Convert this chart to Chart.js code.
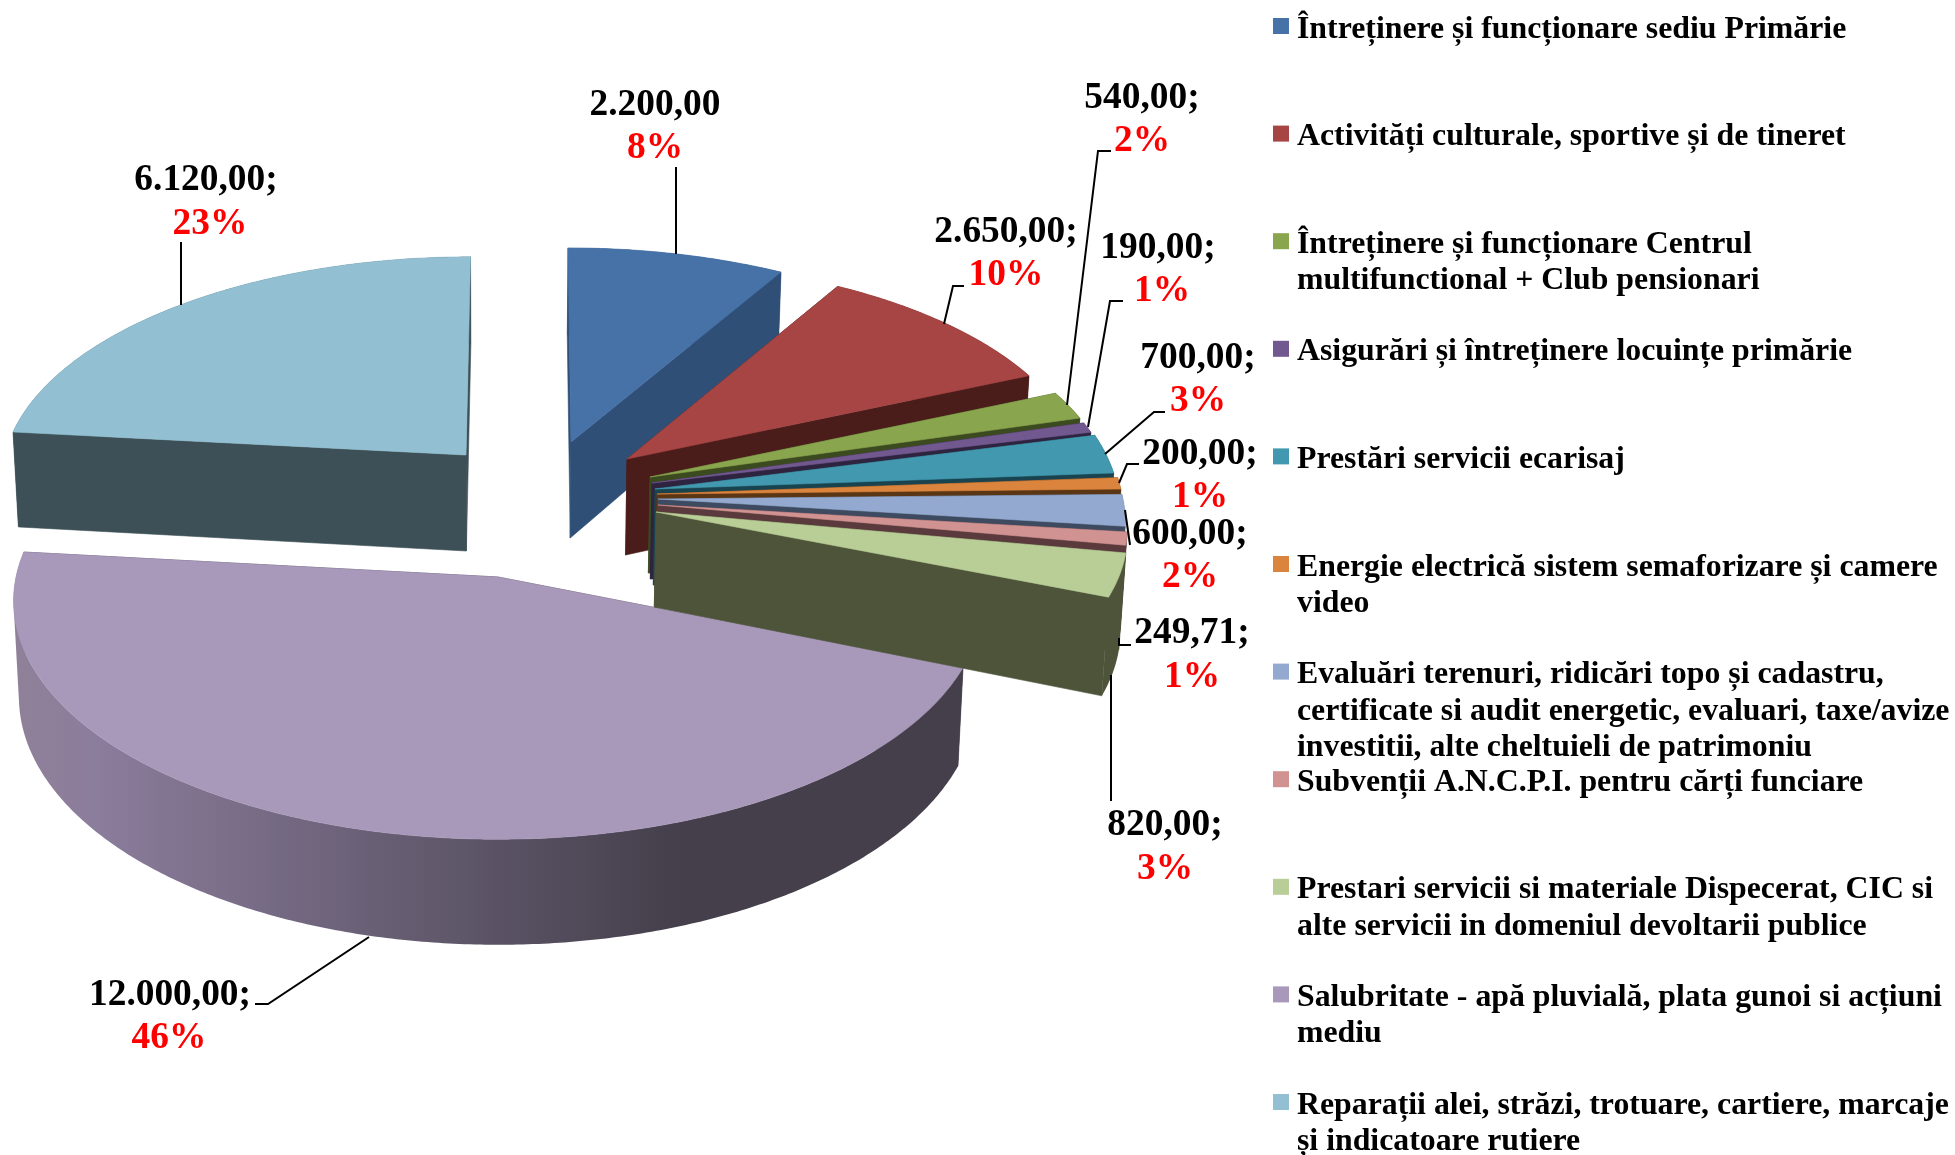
<!DOCTYPE html>
<html><head><meta charset="utf-8">
<style>html,body{margin:0;padding:0;background:#fff}canvas{display:block}</style>
<script src="https://cdn.jsdelivr.net/npm/chart.js@4"></script>
</head><body><canvas id="c" width="1955" height="1155"></canvas>
<script>
const categories = [
  ["Întreținere și funcționare sediu Primărie"],
  ["Activități culturale, sportive și de tineret"],
  ["Întreținere și funcționare Centrul","multifunctional + Club pensionari"],
  ["Asigurări și întreținere locuințe primărie"],
  ["Prestări servicii ecarisaj"],
  ["Energie electrică sistem semaforizare și camere","video"],
  ["Evaluări terenuri, ridicări topo și cadastru,","certificate si audit energetic, evaluari, taxe/avize","investitii, alte cheltuieli de patrimoniu"],
  ["Subvenții A.N.C.P.I. pentru cărți funciare"],
  ["Prestari servicii si materiale Dispecerat, CIC si","alte servicii in domeniul devoltarii publice"],
  ["Salubritate - apă pluvială, plata gunoi si acțiuni","mediu"],
  ["Reparații alei, străzi, trotuare, cartiere, marcaje","și indicatoare rutiere"]
];
const values = [2200,2650,540,190,700,200,600,249.71,820,12000,6120];
const separators = ["",";",";",";",";",";",";",";",";",";",";"];

const topColors  = ["#4672a8","#a64543","#89a54e","#71588f","#4198af","#db843d","#93a9cf","#d19392","#b9cd96","#a899bb","#92c0d2"];
const sideColors = ["#2f4f76","#4a1d1b","#3c4a20","#2f2440","#1a4350","#5b3615","#3d4a60","#5a3a3c","#4d543a","#443f4b","#3e5057"];

// exploded 3D projection of each slice: centre, radii, shear (styling of the projection only)
const perspective = 0.1, convergeX = 500, convergeK = 0.989;
const projection = [
  {cx:571,cy:442,rx:460,ry:213.5,sx:3.3,d:96},
  {cx:627,cy:459,rx:456,ry:217,sx:0,d:96},
  {cx:650,cy:477,rx:460,ry:218,sx:0,d:96},
  {cx:652,cy:483,rx:462,ry:222,sx:0,d:96},
  {cx:655,cy:489,rx:463,ry:235,sx:0,d:96},
  {cx:657,cy:494,rx:465,ry:240,sx:0,d:96},
  {cx:658,cy:499,rx:465,ry:220,sx:0,d:96},
  {cx:658,cy:505,rx:467,ry:218,sx:0,d:96},
  {cx:656,cy:512,rx:469,ry:222,sx:0,d:95},
  {cx:498,cy:577,rx:482,ry:236,sx:0,d:95},
  {cx:466,cy:455,rx:461,ry:218,sx:-5,d:96}
];
const drawOrder = [10,0,1,2,3,4,5,6,7,9,8];

// label placement: centre x, two baselines, leader polyline
const labelSpots = [
  {x:655,y1:115,y2:158,lead:[[676,167],[676,254]]},
  {x:1006,y1:242,y2:285,lead:[[964,286],[953,286],[944,324]]},
  {x:1142,y1:108,y2:151,lead:[[1111,151],[1098,151],[1067,405]]},
  {x:1158,y1:258,x2:1162,y2:301,lead:[[1123,301],[1110,301],[1088,427]]},
  {x:1198,y1:368,y2:411,lead:[[1165,412],[1154,412],[1105,454]]},
  {x:1200,y1:464,y2:507,lead:[[1139,464],[1127,464],[1119,483]]},
  {x:1190,y1:544,y2:587,lead:[[1125,510],[1130,545]]},
  {x:1192,y1:643,y2:687,lead:[[1131,645],[1119,645],[1119,638]]},
  {x:1165,y1:835,y2:879,lead:[[1111,675],[1111,801]]},
  {x:170,y1:1005,x2:169,y2:1048,lead:[[255,1004],[268,1004],[369,937]]},
  {x:206,y1:190,x2:210,y2:234,lead:[[181,242],[181,305]]}
];

const labelFont = 'bold 37.4px "Liberation Serif"';
const legendFont = 'bold 31.8px "Liberation Serif"';
const legendX = 1273, legendTop = 18, legendPitch = 107.6, legendLine = 36.5, swatch = 16;

function money(v){
  const [a,b] = v.toFixed(2).split('.');
  return a.replace(/\B(?=(\d{3})+$)/g,'.') + ',' + b;
}
function proj(s,th){
  const u=Math.sin(th), v=-Math.cos(th), w=1-perspective*v;
  return {x:s.cx+(s.rx*u+s.sx*v)/w, y:s.cy+s.ry*v/w, w};
}
function down(p,d){
  return {x:convergeX+(p.x-convergeX)*convergeK, y:p.y+d/p.w};
}
function poly(ctx,pts,fill){
  ctx.beginPath();
  pts.forEach((p,i)=>i?ctx.lineTo(p.x,p.y):ctx.moveTo(p.x,p.y));
  ctx.closePath();
  ctx.fillStyle=fill; ctx.strokeStyle=fill; ctx.lineWidth=0.6;
  ctx.fill(); ctx.stroke();
}
// the swept outer wall: all quads in one path with one winding, so no seams show
function wall(ctx,rim,rimD,fill){
  ctx.beginPath();
  for(let k=0;k<rim.length-1;k++){
    let q=[rim[k],rim[k+1],rimD[k+1],rimD[k]];
    let area=0;
    q.forEach((p,j)=>{const r=q[(j+1)%4]; area+=p.x*r.y-r.x*p.y;});
    if(area<0) q=q.reverse();
    q.forEach((p,j)=>j?ctx.lineTo(p.x,p.y):ctx.moveTo(p.x,p.y));
    ctx.closePath();
  }
  ctx.fillStyle=fill;
  ctx.fill();
}

const solidPie = {
  id:'solidPie',
  beforeDatasetDraw(chart,args){
    const ctx=chart.ctx, arcs=chart.getDatasetMeta(0).data;
    ctx.save();
    drawOrder.forEach(i=>{
      const a=arcs[i], s=projection[i];
      const t0=a.startAngle+Math.PI/2, t1=a.endAngle+Math.PI/2;
      const n=Math.max(4,Math.ceil((t1-t0)/0.01));
      const rim=[];
      for(let k=0;k<=n;k++) rim.push(proj(s,t0+(t1-t0)*k/n));
      const apex={x:s.cx,y:s.cy,w:1};
      const apexD=down(apex,s.d), rimD=rim.map(p=>down(p,s.d));
      let side=sideColors[i];
      poly(ctx,[apex,rim[0],rimD[0],apexD],side);
      poly(ctx,[apex,rim[n],rimD[n],apexD],side);
      if(i===9){
        const g=ctx.createLinearGradient(13,0,680,0);
        g.addColorStop(0,'#908199'); g.addColorStop(0.12,'#8b7d9c'); g.addColorStop(1,'#443f4b');
        side=g;
      }
      wall(ctx,rim,rimD,side);
      poly(ctx,[apex].concat(rim),topColors[i]);
    });
    ctx.restore();
    return false;
  },
  afterDatasetsDraw(chart){
    const ctx=chart.ctx, total=values.reduce((a,b)=>a+b,0);
    ctx.save();
    ctx.strokeStyle='#000'; ctx.lineWidth=2;
    labelSpots.forEach(l=>{
      ctx.beginPath();
      l.lead.forEach((p,i)=>i?ctx.lineTo(p[0],p[1]):ctx.moveTo(p[0],p[1]));
      ctx.stroke();
    });
    ctx.font=labelFont; ctx.textAlign='center'; ctx.textBaseline='alphabetic';
    values.forEach((v,i)=>{
      const l=labelSpots[i];
      ctx.fillStyle='#000';
      ctx.fillText(money(v)+separators[i],l.x,l.y1);
      ctx.fillStyle='#ff0000';
      ctx.fillText(Math.round(v/total*100)+'%',l.x2||l.x,l.y2);
    });
    ctx.font=legendFont; ctx.textAlign='left';
    categories.forEach((lines,i)=>{
      const top=legendTop+legendPitch*i;
      ctx.fillStyle=topColors[i];
      ctx.fillRect(legendX,top,swatch,swatch);
      ctx.fillStyle='#000';
      lines.forEach((t,j)=>ctx.fillText(t,legendX+24,top+19.5+legendLine*j));
    });
    ctx.restore();
  }
};

new Chart(document.getElementById('c'),{
  type:'pie',
  data:{labels:categories.map(l=>l.join(' ')),datasets:[{data:values,backgroundColor:topColors,borderWidth:0}]},
  options:{responsive:false,animation:false,rotation:0,
    plugins:{legend:{display:false},tooltip:{enabled:false}}},
  plugins:[solidPie]
});
</script></body></html>
